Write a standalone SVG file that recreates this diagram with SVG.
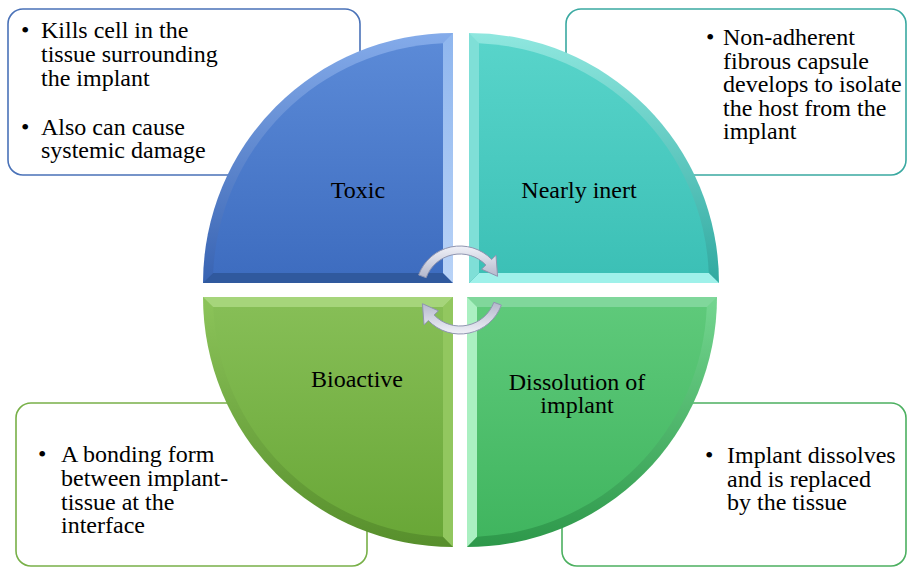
<svg xmlns="http://www.w3.org/2000/svg" width="907" height="568" viewBox="0 0 907 568">
  <defs>
    <style>
      .box { fill: #ffffff; stroke-width: 1.6; }
      .txt { font-family: "Liberation Serif", "Times New Roman", serif; font-size: 24px; fill: #000000; }
      .lbl { font-family: "Liberation Serif", "Times New Roman", serif; font-size: 24px; fill: #000000; text-anchor: middle; }
      .arrow { fill: url(#arrowFill); stroke: #8f95b0; stroke-width: 1; }
    </style>
    <!-- Toxic (blue) -->
    <linearGradient id="tlArc" x1="0" y1="0" x2="0" y2="1">
      <stop offset="0" stop-color="#84abea"/>
      <stop offset="1" stop-color="#3863b2"/>
    </linearGradient>
    <linearGradient id="tlSide" x1="0" y1="0" x2="0" y2="1">
      <stop offset="0" stop-color="#8fb6ee"/>
      <stop offset="1" stop-color="#b9d3f7"/>
    </linearGradient>
    <linearGradient id="tlFace" x1="0" y1="0" x2="0" y2="1">
      <stop offset="0" stop-color="#5b8ad7"/>
      <stop offset="1" stop-color="#3e6dc0"/>
    </linearGradient>
    <!-- Nearly inert (teal) -->
    <linearGradient id="trArc" x1="0" y1="0" x2="0" y2="1">
      <stop offset="0" stop-color="#8fe7df"/>
      <stop offset="1" stop-color="#30a9a0"/>
    </linearGradient>
    <linearGradient id="trFace" x1="0" y1="0" x2="0" y2="1">
      <stop offset="0" stop-color="#58d4ca"/>
      <stop offset="1" stop-color="#3cc0b6"/>
    </linearGradient>
    <!-- Bioactive (light green) -->
    <linearGradient id="blArc" x1="0" y1="0" x2="0" y2="1">
      <stop offset="0" stop-color="#8cc45a"/>
      <stop offset="1" stop-color="#578f2c"/>
    </linearGradient>
    <linearGradient id="blFace" x1="0" y1="0" x2="0" y2="1">
      <stop offset="0" stop-color="#86be56"/>
      <stop offset="1" stop-color="#69a737"/>
    </linearGradient>
    <!-- Dissolution (green) -->
    <linearGradient id="brArc" x1="0" y1="0" x2="0" y2="1">
      <stop offset="0" stop-color="#74d690"/>
      <stop offset="1" stop-color="#2d984a"/>
    </linearGradient>
    <linearGradient id="brFace" x1="0" y1="0" x2="0" y2="1">
      <stop offset="0" stop-color="#5ec97a"/>
      <stop offset="1" stop-color="#40b55f"/>
    </linearGradient>
    <!-- cycle arrows -->
    <linearGradient id="arrowFill" x1="0" y1="0" x2="0" y2="1">
      <stop offset="0" stop-color="#f0f1f8"/>
      <stop offset="1" stop-color="#b3b7cb"/>
    </linearGradient>
    <path id="cycleArrow" class="arrow" d="M-33.83,-12.31 L-41.35,-15.05 A44,44 0 0 1 31.65,-30.57 L35.97,-34.73 L37.59,-13.68 L21.58,-20.84 L25.90,-25.01 A36,36 0 0 0 -33.83,-12.31 Z"/>
  </defs>

  <rect width="907" height="568" fill="#ffffff"/>

  <!-- description boxes -->
  <g id="box-toxic">
    <rect class="box" x="8" y="9" width="352" height="166" rx="15" stroke="#4a72b8"/>
    <text class="txt" x="21" y="38">•</text>
    <text class="txt" x="41" y="38">Kills cell in the</text>
    <text class="txt" x="41" y="62">tissue surrounding</text>
    <text class="txt" x="41" y="86">the implant</text>
    <text class="txt" x="21" y="135">•</text>
    <text class="txt" x="41" y="135">Also can cause</text>
    <text class="txt" x="41" y="158">systemic damage</text>
  </g>
  <g id="box-inert">
    <rect class="box" x="566" y="9" width="340" height="166" rx="15" stroke="#3aa9a1"/>
    <text class="txt" x="706" y="45">•</text>
    <text class="txt" x="723" y="45">Non-adherent</text>
    <text class="txt" x="723" y="69">fibrous capsule</text>
    <text class="txt" x="723" y="92">develops to isolate</text>
    <text class="txt" x="723" y="116">the host from the</text>
    <text class="txt" x="723" y="139">implant</text>
  </g>
  <g id="box-bioactive">
    <rect class="box" x="16" y="403" width="351" height="163" rx="15" stroke="#78b048"/>
    <text class="txt" x="38" y="462">•</text>
    <text class="txt" x="61" y="462">A bonding form</text>
    <text class="txt" x="61" y="486">between implant-</text>
    <text class="txt" x="61" y="510">tissue at the</text>
    <text class="txt" x="61" y="533">interface</text>
  </g>
  <g id="box-dissolution">
    <rect class="box" x="562" y="403" width="344" height="163" rx="15" stroke="#4cb060"/>
    <text class="txt" x="705" y="463">•</text>
    <text class="txt" x="727" y="463">Implant dissolves</text>
    <text class="txt" x="727" y="487">and is replaced</text>
    <text class="txt" x="727" y="510">by the tissue</text>
  </g>

  <!-- bevelled quarter discs -->
  <g id="q-toxic">
    <path d="M453,283 L203,283 A250,250 0 0 1 453,33 Z" fill="url(#tlArc)"/>
    <polygon points="453,283 203,283 213.21,273 443,273" fill="#30599e"/>
    <polygon points="453,283 443,273 443,43.21 453,33" fill="url(#tlSide)"/>
    <path d="M443,273 L213.21,273 A240,240 0 0 1 443,43.21 Z" fill="url(#tlFace)"/>
    <text class="lbl" x="358" y="198">Toxic</text>
  </g>
  <g id="q-inert">
    <path d="M469,283 L719,283 A250,250 0 0 0 469,33 Z" fill="url(#trArc)"/>
    <polygon points="469,283 719,283 708.79,273 479,273" fill="#9ff1ea"/>
    <polygon points="469,283 479,273 479,43.21 469,33" fill="#7fdfd7"/>
    <path d="M479,273 L708.79,273 A240,240 0 0 0 479,43.21 Z" fill="url(#trFace)"/>
    <text class="lbl" x="579" y="198">Nearly inert</text>
  </g>
  <g id="q-bioactive">
    <path d="M453,297 L203,297 A250,250 0 0 0 453,547 Z" fill="url(#blArc)"/>
    <polygon points="453,297 203,297 213.21,307 443,307" fill="#a6d57b"/>
    <polygon points="453,297 443,307 443,536.79 453,547" fill="#92c75f"/>
    <path d="M443,307 L213.21,307 A240,240 0 0 0 443,536.79 Z" fill="url(#blFace)"/>
    <text class="lbl" x="357" y="387">Bioactive</text>
  </g>
  <g id="q-dissolution">
    <path d="M467,297 L717,297 A250,250 0 0 1 467,547 Z" fill="url(#brArc)"/>
    <polygon points="467,297 717,297 706.79,307 477,307" fill="#80d79b"/>
    <polygon points="467,297 477,307 477,536.79 467,547" fill="#aaf0c1"/>
    <path d="M477,307 L706.79,307 A240,240 0 0 1 477,536.79 Z" fill="url(#brFace)"/>
    <text class="lbl" x="577" y="390">Dissolution of</text>
    <text class="lbl" x="577" y="413">implant</text>
  </g>

  <!-- circular cycle arrows -->
  <g id="connectors">
    <use href="#cycleArrow" transform="translate(460,290)"/>
    <use href="#cycleArrow" transform="translate(460,290) rotate(180)"/>
  </g>
</svg>
